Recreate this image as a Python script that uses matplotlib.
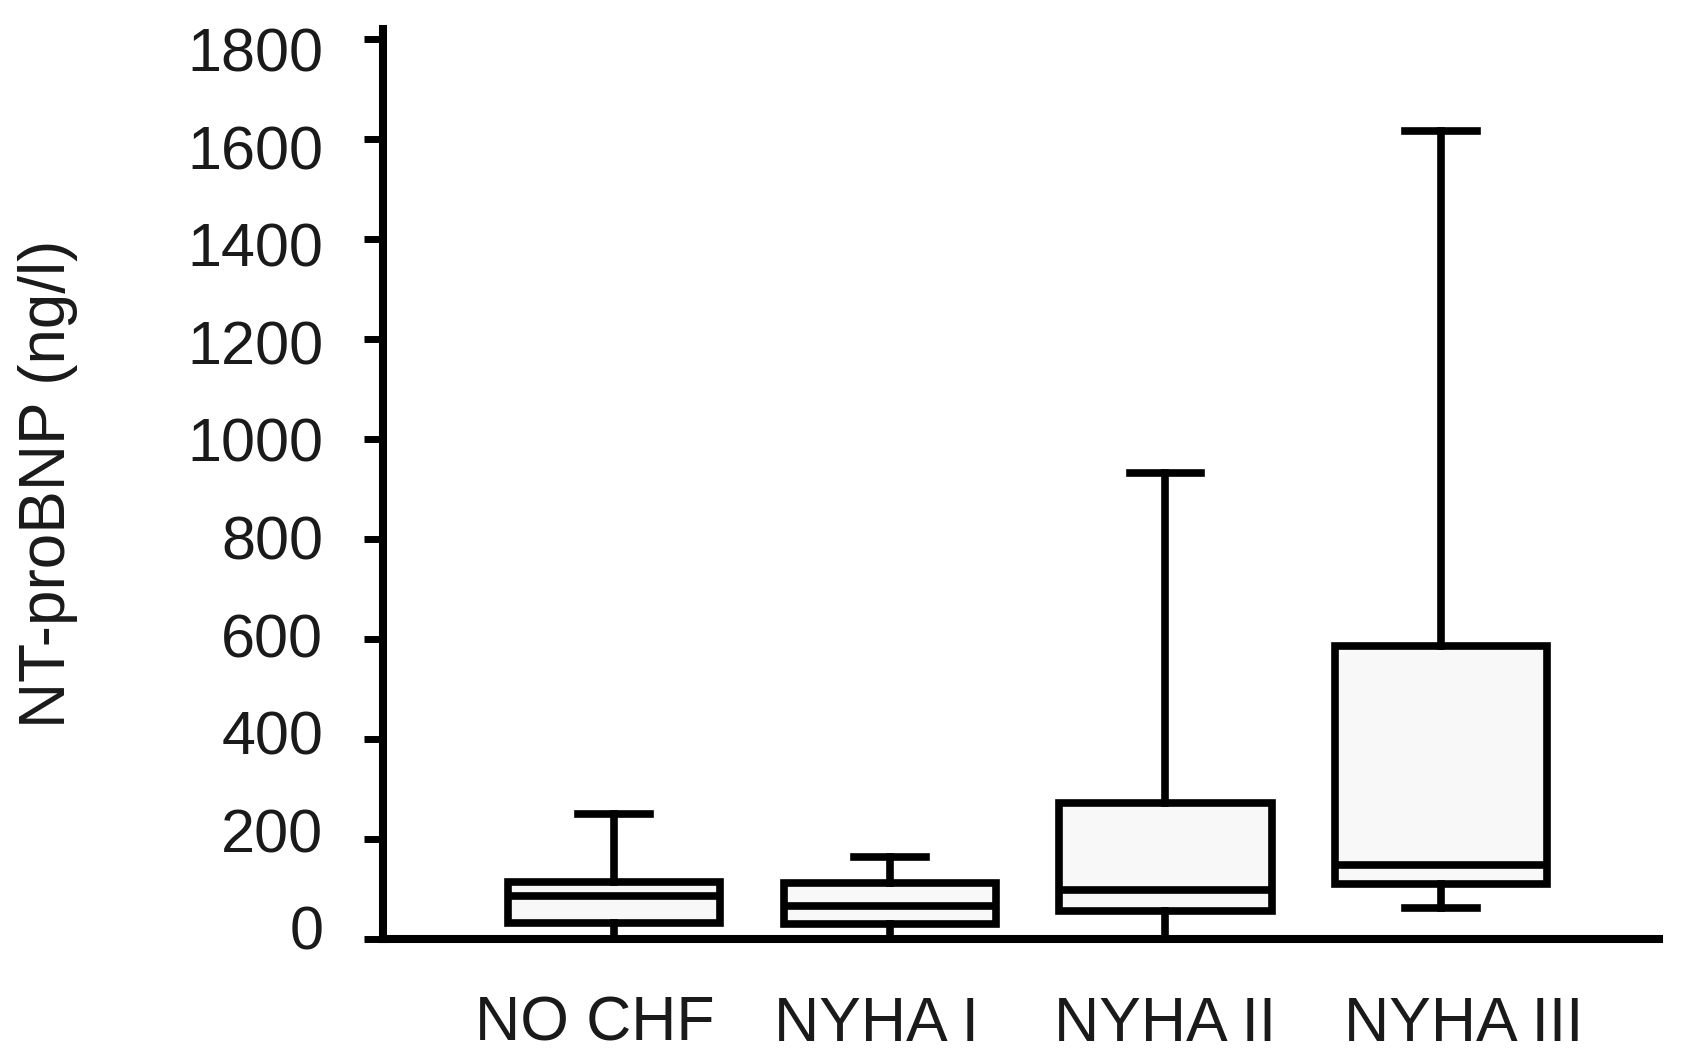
import matplotlib
matplotlib.use("Agg")
import matplotlib.pyplot as plt

# box statistics (ng/l)
groups = ["NO CHF", "NYHA I", "NYHA II", "NYHA III"]
whisker_low = [0, 0, 0, 62]
q1 = [31, 30, 55, 110]
median = [85, 65, 98, 148]
q3 = [113, 112, 272, 585]
whisker_high = [250, 164, 932, 1615]

yticks = [0, 200, 400, 600, 800, 1000, 1200, 1400, 1600, 1800]

plt.rcParams["font.family"] = ["Liberation Sans", "DejaVu Sans"]
text_color = "#1a1a1a"

fig = plt.figure(figsize=(16.89, 10.64), dpi=100)
ax = fig.add_axes([0.2268, 0.1175, 0.7554, 0.8553])

stats = []
for i, name in enumerate(groups):
    stats.append({
        "label": name,
        "whislo": whisker_low[i],
        "q1": q1[i],
        "med": median[i],
        "q3": q3[i],
        "whishi": whisker_high[i],
        "fliers": [],
    })

lw = 5.5
box_pos = list(range(1, len(groups) + 1))
ax.bxp(
    stats,
    positions=box_pos,
    widths=0.77,
    capwidths=0.26,
    showfliers=False,
    patch_artist=True,
    boxprops=dict(facecolor="#f8f8f8", edgecolor="black", linewidth=lw),
    medianprops=dict(color="black", linewidth=lw),
    whiskerprops=dict(color="black", linewidth=lw),
    capprops=dict(color="black", linewidth=lw),
)

ax.set_xlim(0.162, 4.79)
ax.set_ylim(0, 1820)

# category labels sit a little off the box centres in the original
label_x = [0.93, 1.95, 3.0, 4.08]
ax.set_xticks(label_x)
ax.set_xticklabels(groups)

# tick marks on the values, labels in a slightly squeezed column (as in the original)
ax.set_yticks(yticks)
ax.set_yticks([22 + 0.976 * v for v in yticks], [str(v) for v in yticks], minor=True)

for side in ["top", "right"]:
    ax.spines[side].set_visible(False)
for side in ["left", "bottom"]:
    ax.spines[side].set_linewidth(5.8)
    ax.spines[side].set_color("black")

ax.tick_params(axis="y", which="major", length=14, width=5, direction="out",
               labelleft=False)
ax.tick_params(axis="y", which="minor", length=0, pad=43, labelsize=44,
               labelcolor=text_color)
ax.tick_params(axis="x", length=0, pad=40, labelsize=45, labelcolor=text_color)

ax.set_ylabel("NT-proBNP (ng/l)", fontsize=46, color=text_color)
ax.yaxis.set_label_coords(-0.239, 0.5)

fig.savefig("out.png", dpi=100)
